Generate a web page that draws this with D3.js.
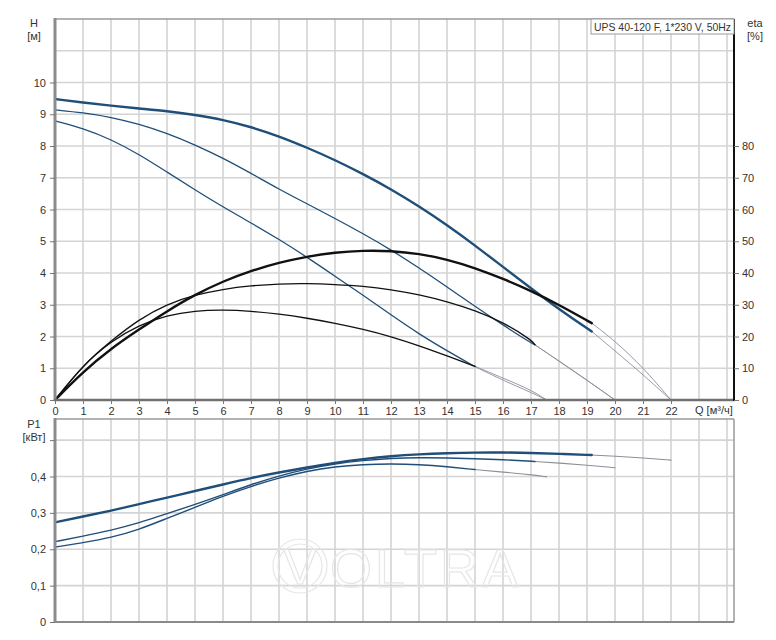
<!DOCTYPE html>
<html><head><meta charset="utf-8">
<script src="https://cdn.jsdelivr.net/npm/d3@7"></script>
<style>
html,body{margin:0;padding:0;background:#fff;}
svg{display:block;font-family:"Liberation Sans",Arial,sans-serif;}
</style></head>
<body><svg id="c" width="776" height="640"></svg>
<script>
// ---------- data ----------
const title = "UPS 40-120 F, 1*230 V, 50Hz";
const qTicks = d3.range(0, 23);           // labelled Q ticks 0..22
const hTicks = d3.range(0, 11);           // H 0..10
const etaTicks = d3.range(0, 90, 10);     // eta 0..80
const pTicks = [0, 0.1, 0.2, 0.3, 0.4, 0.5];
const pTickLabels = ["0", "0,1", "0,2", "0,3", "0,4", ""];

// H curves [m]
const hQ1 = [0,1,2,3,4,5,6,7,8,9,10,11,12,13,14,15,16,17,18,19.17];
const hV1 = [9.48,9.37,9.27,9.18,9.10,8.98,8.83,8.60,8.31,7.95,7.56,7.12,6.64,6.10,5.51,4.87,4.19,3.52,2.86,2.16];
const hQ1x = [19.17,20,21,22];
const hV1x = [2.16,1.55,0.80,0];

const hQ2 = [0,1,2,3,4,5,6,7,8,9,10,11,12,13,14,15,16,17,17.14];
const hV2 = [9.14,9.05,8.91,8.69,8.40,8.04,7.62,7.14,6.64,6.18,5.72,5.24,4.73,4.16,3.56,2.95,2.36,1.80,1.74];
const hQ2x = [17.14,18,19,20];
const hV2x = [1.74,1.22,0.62,0];

const hQ3 = [0,1,2,3,4,5,6,7,8,9,10,11,12,13,14,15];
const hV3 = [8.79,8.56,8.21,7.74,7.18,6.62,6.08,5.58,5.06,4.50,3.90,3.30,2.68,2.08,1.55,1.05];
const hQ3x = [15,16,17,17.56];
const hV3x = [1.05,0.62,0.24,0];

// eta curves [%]
const eQ1 = [0,1,2,3,4,5,6,7,8,9,10,11,12,13,14,15,16,17,18,19.17];
const eV1 = [0,8.9,16.2,22.2,28.0,33.2,37.4,40.7,43.3,45.2,46.5,47.1,47.0,46.1,44.3,41.6,38.2,34.4,30.0,24.2];
const eQ1x = [19.17,20,21,22];
const eV1x = [24.2,18.6,10.3,0];

const eQ2 = [0,1,2,3,4,5,6,7,8,9,10,11,12,13,14,15,16,17,17.14];
const eV2 = [0,11.0,18.6,25.4,30.2,33.1,34.9,36.0,36.6,36.7,36.4,35.9,34.8,33.2,31.0,28.2,24.5,19.0,17.4];
const eQ2x = [17.14,18,19,20];
const eV2x = [17.4,12.3,6.3,0];

const eQ3 = [0,1,2,3,4,5,6,7,8,9,10,11,12,13,14,15];
const eV3 = [0,11.0,18.5,23.6,26.7,28.1,28.4,28.0,27.1,25.8,24.2,22.3,20.0,17.1,13.9,10.6];
const eQ3x = [15,16,17,17.56];
const eV3x = [10.6,6.9,3.2,0];

// P1 curves [kW]
const pQ1 = [0,1,2,3,4,5,6,7,8,9,10,11,12,13,14,15,16,17,18,19.17];
const pV1 = [0.274,0.290,0.306,0.324,0.342,0.360,0.378,0.396,0.411,0.425,0.438,0.448,0.456,0.461,0.464,0.466,0.466,0.465,0.462,0.459];
const pQ1x = [19.17,20,21,22];
const pV1x = [0.459,0.456,0.451,0.445];

const pQ2 = [0,1,2,3,4,5,6,7,8,9,10,11,12,13,14,15,16,17,17.14];
const pV2 = [0.221,0.236,0.252,0.272,0.298,0.323,0.350,0.378,0.402,0.421,0.435,0.444,0.450,0.452,0.451,0.449,0.446,0.442,0.441];
const pQ2x = [17.14,18,19,20];
const pV2x = [0.441,0.437,0.431,0.424];

const pQ3 = [0,1,2,3,4,5,6,7,8,9,10,11,12,13,14,15];
const pV3 = [0.206,0.218,0.232,0.254,0.285,0.315,0.346,0.373,0.396,0.415,0.427,0.433,0.435,0.433,0.427,0.419];
const pQ3x = [15,16,17,17.56];
const pV3x = [0.419,0.412,0.405,0.399];

// ---------- drawing ----------
const svg = d3.select("#c");
const BLUE = "#1f4e79", GRID = "#d4d4d4", TXT = "#333", EXT = "#8a8f99";
const x = d3.scaleLinear().domain([0, 24.25]).range([55, 734]);
const yH = d3.scaleLinear().domain([0, 12]).range([400, 19]);
const yE = d3.scaleLinear().domain([0, 120]).range([400, 19]);
const yP = d3.scaleLinear().domain([0, 0.558]).range([622, 419]);

function grid(y0, y1, yScale, yVals){
  const g = svg.append("g");
  g.selectAll("line.v").data(d3.range(1, 25)).join("line")
    .attr("x1", d => x(d)).attr("x2", d => x(d)).attr("y1", y0).attr("y2", y1)
    .attr("stroke", GRID).attr("stroke-width", 1.6);
  g.selectAll("line.h").data(yVals).join("line")
    .attr("x1", 55).attr("x2", 734).attr("y1", d => yScale(d)).attr("y2", d => yScale(d))
    .attr("stroke", GRID).attr("stroke-width", 1.6);
}
grid(19, 400, yH, d3.range(1, 12));
grid(419, 622, yP, [0.1, 0.2, 0.3, 0.4, 0.5]);

// watermark
const wm = svg.append("g").attr("fill", "none").attr("stroke", "#e6e6e6").attr("stroke-width", 1.2);
wm.append("circle").attr("cx", 300).attr("cy", 566).attr("r", 27);
wm.append("circle").attr("cx", 300).attr("cy", 566).attr("r", 22);
wm.append("text").attr("x", 300).attr("y", 584).attr("text-anchor", "middle")
  .attr("font-size", 50).attr("font-family", "Liberation Sans, Arial").text("V");
wm.append("text").attr("x", 330).attr("y", 587).attr("font-size", 54)
  .attr("letter-spacing", 3).attr("font-family", "Liberation Sans, Arial").text("OLTRA");

// frames
svg.append("line").attr("x1", 55).attr("x2", 734).attr("y1", 19).attr("y2", 19).attr("stroke", "#9a9a9a").attr("stroke-width", 1.5);
svg.append("line").attr("x1", 55).attr("x2", 734).attr("y1", 419).attr("y2", 419).attr("stroke", "#9a9a9a").attr("stroke-width", 1.5);
svg.append("line").attr("x1", 734).attr("x2", 734).attr("y1", 419).attr("y2", 622).attr("stroke", "#9a9a9a").attr("stroke-width", 1.5);
svg.append("line").attr("x1", 55).attr("x2", 734).attr("y1", 622).attr("y2", 622).attr("stroke", "#8a8a8a").attr("stroke-width", 2);

// curves
function curve(qs, vs, yScale, color, w){
  const pts = qs.map((q, i) => [q, vs[i]]);
  svg.append("path").datum(pts)
    .attr("d", d3.line().x(d => x(d[0])).y(d => yScale(d[1])).curve(d3.curveBasis))
    .attr("fill", "none").attr("stroke", color).attr("stroke-width", w)
    .attr("stroke-linejoin", "round").attr("stroke-linecap", "round");
}
// extensions
curve(hQ1x, hV1x, yH, EXT, 0.9); curve(hQ2x, hV2x, yH, EXT, 0.9); curve(hQ3x, hV3x, yH, EXT, 0.9);
curve(eQ1x, eV1x, yE, EXT, 0.9); curve(eQ2x, eV2x, yE, EXT, 0.9); curve(eQ3x, eV3x, yE, EXT, 0.9);
curve(pQ1x, pV1x, yP, EXT, 1.1); curve(pQ2x, pV2x, yP, EXT, 1.1); curve(pQ3x, pV3x, yP, EXT, 1.1);
// main
curve(hQ3, hV3, yH, BLUE, 1.3); curve(hQ2, hV2, yH, BLUE, 1.3); curve(hQ1, hV1, yH, BLUE, 2.4);
curve(eQ3, eV3, yE, "#111", 1.3); curve(eQ2, eV2, yE, "#111", 1.3); curve(eQ1, eV1, yE, "#111", 2.4);
curve(pQ3, pV3, yP, BLUE, 1.4); curve(pQ2, pV2, yP, BLUE, 1.4); curve(pQ1, pV1, yP, BLUE, 2.4);

// axes lines
svg.append("line").attr("x1", 55).attr("x2", 55).attr("y1", 18).attr("y2", 401).attr("stroke", "#8c8c8c").attr("stroke-width", 3);
svg.append("line").attr("x1", 55).attr("x2", 55).attr("y1", 418).attr("y2", 623).attr("stroke", "#8c8c8c").attr("stroke-width", 3);
svg.append("line").attr("x1", 54).attr("x2", 735).attr("y1", 400).attr("y2", 400).attr("stroke", "#707070").attr("stroke-width", 2.5);
svg.append("line").attr("x1", 734).attr("x2", 734).attr("y1", 19).attr("y2", 401).attr("stroke", "#111").attr("stroke-width", 2);

// axes via d3
const fs = 11;
const axB = svg.append("g").attr("transform", "translate(0,400)")
  .call(d3.axisBottom(x).tickValues(qTicks).tickSize(4).tickPadding(3).tickFormat(d3.format("d")));
const axL = svg.append("g").attr("transform", "translate(55,0)")
  .call(d3.axisLeft(yH).tickValues(hTicks).tickSize(5).tickPadding(4).tickFormat(d3.format("d")));
const axR = svg.append("g").attr("transform", "translate(734,0)")
  .call(d3.axisRight(yE).tickValues(etaTicks).tickSize(5).tickPadding(3).tickFormat(d3.format("d")));
const axP = svg.append("g").attr("transform", "translate(55,0)")
  .call(d3.axisLeft(yP).tickValues(pTicks).tickSize(5).tickPadding(4).tickFormat((d, i) => pTickLabels[i]));
[axB, axL, axR, axP].forEach(a => {
  a.select(".domain").remove();
  a.selectAll(".tick line").attr("stroke", "#777");
  a.selectAll("text").attr("fill", TXT).attr("font-size", fs).attr("font-family", "Liberation Sans, Arial");
});

// axis titles
function t(xp, yp, s, anchor){ return svg.append("text").attr("x", xp).attr("y", yp).attr("text-anchor", anchor || "middle")
  .attr("font-size", fs).attr("fill", TXT).text(s); }
t(34, 27, "H"); t(34, 40, "[м]");
t(755, 27, "eta"); t(755, 40, "[%]");
t(34, 428, "P1"); t(34, 441, "[кВт]");
t(695, 414, "Q [м³/ч]", "start");

// title box
svg.append("rect").attr("x", 591).attr("y", 19).attr("width", 143).attr("height", 15)
  .attr("fill", "#fff").attr("stroke", "#999").attr("stroke-width", 1);
t(594, 31, title, "start").attr("textLength", 137).attr("lengthAdjust", "spacingAndGlyphs");
</script></body></html>
